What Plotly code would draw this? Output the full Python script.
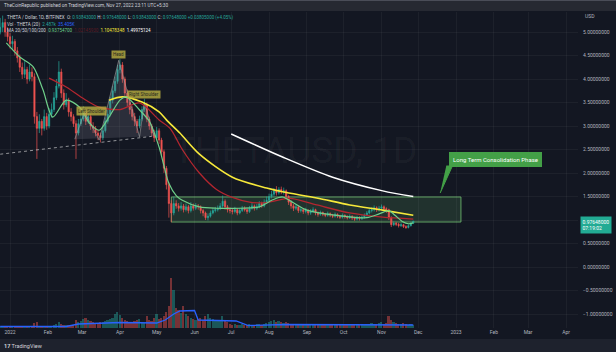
import plotly.graph_objects as go
import pandas as pd

# ---------------- data (2-day candles) ----------------
candle_start = "2021-12-24"
first_open = 5.00
closes = [5.10,5.20,5.00,4.90,4.75,4.80,4.60,4.45,4.25,4.10,
          4.20,4.00,4.15,4.05,3.20,2.95,3.10,2.95,3.20,3.00,
          3.25,3.35,3.60,3.85,4.15,3.70,3.45,3.55,3.30,3.20,
          3.05,2.85,3.05,3.15,3.30,3.10,3.20,3.00,2.95,2.85,
          2.80,2.75,2.90,3.10,3.25,3.55,3.75,3.95,4.20,4.30,
          4.00,3.70,3.50,3.35,3.20,3.10,3.00,3.15,3.35,3.45,
          3.15,3.00,2.85,2.75,2.90,2.70,2.45,2.10,1.75,1.35,
          1.15,1.35,1.30,1.25,1.30,1.22,1.28,1.20,1.30,1.25,
          1.30,1.28,1.20,1.15,1.05,1.08,1.15,1.20,1.22,1.25,
          1.30,1.40,1.28,1.22,1.20,1.18,1.22,1.15,1.20,1.25,
          1.22,1.18,1.25,1.30,1.25,1.28,1.35,1.30,1.38,1.42,
          1.50,1.55,1.62,1.58,1.65,1.60,1.62,1.50,1.38,1.30,
          1.25,1.28,1.20,1.22,1.18,1.20,1.15,1.18,1.22,1.15,
          1.12,1.16,1.12,1.10,1.14,1.10,1.08,1.12,1.08,1.06,
          1.10,1.07,1.05,1.08,1.04,1.02,1.05,1.03,1.06,1.10,
          1.15,1.20,1.22,1.26,1.22,1.25,1.28,1.24,1.22,1.05,
          0.90,0.93,0.91,0.88,0.90,0.86,0.84,0.88,0.93,0.976]
highs = [5.30,5.35,5.28,5.10,4.98,4.92,4.85,4.68,4.52,4.35,
         4.38,4.26,4.30,4.25,4.12,3.30,3.25,3.15,3.35,3.28,
         3.38,3.48,3.72,4.00,4.38,4.22,3.78,3.70,3.60,3.38,
         3.25,3.12,3.15,3.28,3.42,3.35,3.32,3.25,3.08,3.00,
         2.92,2.86,2.98,3.18,3.34,3.62,3.85,4.05,4.30,4.42,
         4.36,4.05,3.78,3.56,3.42,3.28,3.15,3.22,3.42,3.58,
         3.50,3.20,3.05,2.92,2.98,2.95,2.75,2.50,2.15,1.80,
         1.42,1.50,1.42,1.36,1.38,1.34,1.35,1.32,1.38,1.35,
         1.36,1.34,1.31,1.24,1.18,1.14,1.20,1.26,1.28,1.31,
         1.36,1.52,1.44,1.32,1.27,1.24,1.28,1.25,1.26,1.30,
         1.29,1.26,1.30,1.36,1.33,1.34,1.40,1.39,1.44,1.50,
         1.56,1.62,1.68,1.72,1.70,1.71,1.69,1.65,1.53,1.42,
         1.34,1.33,1.31,1.27,1.25,1.26,1.23,1.23,1.27,1.24,
         1.18,1.20,1.18,1.15,1.18,1.16,1.13,1.16,1.14,1.11,
         1.14,1.12,1.10,1.12,1.10,1.07,1.09,1.08,1.10,1.14,
         1.19,1.24,1.27,1.31,1.29,1.30,1.33,1.31,1.27,1.24,
         1.08,0.97,0.96,0.94,0.94,0.92,0.89,0.91,0.96,0.98]
lows = [4.95,5.00,4.90,4.80,4.65,4.62,4.50,4.35,4.15,4.00,
        4.02,3.90,3.95,3.95,3.05,2.30,2.85,2.80,2.90,2.92,
        2.95,3.18,3.30,3.55,3.80,3.60,3.35,3.40,3.20,3.10,
        2.98,2.30,2.80,3.00,3.10,3.02,3.05,2.92,2.85,2.78,
        2.70,2.65,2.70,2.86,3.05,3.20,3.48,3.70,3.90,4.12,
        3.92,3.62,3.42,3.25,3.12,3.00,2.85,2.95,3.10,3.30,
        3.08,2.92,2.78,2.66,2.70,2.62,2.38,2.00,1.65,1.05,
        0.95,1.10,1.24,1.18,1.20,1.16,1.18,1.14,1.16,1.20,
        1.21,1.22,1.14,1.08,1.00,0.99,1.05,1.12,1.16,1.18,
        1.21,1.26,1.22,1.16,1.14,1.12,1.14,1.10,1.12,1.17,
        1.18,1.13,1.15,1.22,1.20,1.21,1.25,1.26,1.27,1.34,
        1.38,1.46,1.50,1.52,1.54,1.55,1.54,1.45,1.32,1.24,
        1.19,1.21,1.15,1.16,1.13,1.14,1.10,1.11,1.15,1.10,
        1.07,1.09,1.08,1.06,1.07,1.06,1.04,1.05,1.04,1.02,
        1.03,1.03,1.01,1.02,1.00,0.98,0.99,0.99,1.00,1.03,
        1.07,1.12,1.16,1.18,1.17,1.18,1.21,1.19,1.15,1.00,
        0.85,0.87,0.87,0.84,0.85,0.83,0.81,0.82,0.86,0.92]
volumes = [2,2,2,1.5,2,1.5,2,2,2.5,2,
           2,2,2,2,5,6,2,2,2,2,
           2,2,3,4,6,4,3,3,3,2,
           3,8,6,7,9,10,8,7,6,5,
           5,6,6,7,8,9,10,14,16,13,
           10,8,7,6,6,7,8,9,6,5,
           12,8,7,10,14,9,10,12,16,22,
           50,38,20,18,15,22,14,12,10,9,
           8,9,10,8,12,14,10,9,8,7,
           8,12,8,6,4,3,4,3,3,4,
           3,3,4,3,3,4,4,3,4,5,
           6,7,8,6,7,6,5,6,5,4,
           4,3,4,3,3,4,3,3,4,3,
           3,3,4,3,3,3,4,3,3,3,
           3,4,3,3,3,4,3,3,4,3,
           4,4,5,4,4,5,6,4,5,12,
           8,6,5,4,4,5,4,3,4,3]

ma20_dates = ["2021-12-29","2022-01-09","2022-01-20","2022-01-28","2022-02-05","2022-02-16","2022-02-27",
              "2022-03-07","2022-03-15","2022-03-23","2022-04-01","2022-04-06","2022-04-17","2022-04-25",
              "2022-05-03","2022-05-07","2022-05-11","2022-05-17","2022-05-22","2022-06-05","2022-06-19",
              "2022-07-08","2022-07-24","2022-08-04","2022-08-12","2022-08-20","2022-09-01","2022-09-22",
              "2022-10-20","2022-10-30","2022-11-07","2022-11-12","2022-11-18","2022-11-23","2022-11-27"]
ma20_vals = [4.77,4.47,4.26,3.77,3.19,3.55,3.40,3.06,2.91,3.19,3.55,3.62,3.34,3.10,
             2.55,2.15,1.78,1.52,1.42,1.28,1.25,1.25,1.28,1.43,1.49,1.38,1.21,1.11,
             1.05,1.13,1.20,1.10,0.97,0.92,0.94]
ma50_dates = ["2022-02-02","2022-02-16","2022-03-01","2022-03-15","2022-04-01","2022-04-17","2022-05-03",
              "2022-05-12","2022-05-22","2022-06-05","2022-06-19","2022-07-02","2022-07-16","2022-07-30",
              "2022-08-18","2022-09-09","2022-10-06","2022-11-02","2022-11-27"]
ma50_vals = [4.02,3.83,3.60,3.40,3.35,3.49,3.13,2.95,2.50,2.00,1.65,1.48,1.38,1.37,1.46,1.32,1.15,1.06,1.02]
ma100_dates = ["2022-03-23","2022-04-03","2022-04-19","2022-05-03","2022-05-09","2022-05-20","2022-06-05",
               "2022-07-02","2022-07-30","2022-08-12","2022-09-09","2022-10-06","2022-11-02","2022-11-27"]
ma100_vals = [3.55,3.62,3.51,3.30,3.13,2.85,2.40,1.91,1.68,1.60,1.47,1.32,1.21,1.10]
ma200_dates = ["2022-07-01","2022-08-12","2022-09-22","2022-11-02","2022-11-27"]
ma200_vals = [2.83,2.34,1.91,1.62,1.50]
volma_dates = ["2021-12-24","2022-01-02","2022-02-16","2022-02-26","2022-04-01","2022-05-01","2022-05-08",
               "2022-05-15","2022-05-20","2022-06-01","2022-06-04","2022-07-05","2022-07-15","2022-08-15","2022-11-27"]
volma_vals = [1.5,1.5,1.5,4,5.5,5,8,14,17,17.5,8,7,2.5,3.5,3]

# drawings
hs_dates = ["2022-02-23","2022-03-03","2022-03-15","2022-03-31","2022-04-17","2022-04-21","2022-04-29"]
hs_vals = [2.72,3.30,2.70,4.40,2.77,3.51,2.78]
neck_dates = ["2021-12-24","2022-04-27"]
neck_vals = [2.40,2.78]
zone_dates = ["2022-05-13","2023-01-05"]
zone_vals = [0.957,1.49]
pointer_dates = ["2022-12-24","2022-12-29","2022-12-19"]
pointer_vals = [2.149,2.149,1.574]

month_ticks = ["2022-01-01","2022-02-01","2022-03-01","2022-04-01","2022-05-01","2022-06-01","2022-07-01",
               "2022-08-01","2022-09-01","2022-10-01","2022-11-01","2022-12-01","2023-01-01","2023-02-01",
               "2023-03-01","2023-04-01"]
month_text = ["2022","Feb","Mar","Apr","May","Jun","Jul","Aug","Sep","Oct","Nov","Dec","2023","Feb","Mar","Apr"]
price_ticks = [-1.0,-0.5,0.0,0.5,1.0,1.5,2.0,2.5,3.0,3.5,4.0,4.5,5.0]
price_text = ["−1.00000000","−0.50000000","0.00000000","0.50000000","","1.50000000","2.00000000",
              "2.50000000","3.00000000","3.50000000","4.00000000","4.50000000","5.00000000"]

# ---------------- figure ----------------
dates = pd.date_range(candle_start, periods=len(closes), freq="2D")
opens = [first_open] + closes[:-1]
UP, DN = "#26a69a", "#ef5350"
vol_colors = [UP if c >= o else DN for o, c in zip(opens, closes)]

BG = "#131722"
FONT = "Roboto"
fig = go.Figure()

# H&S pattern fill
fig.add_trace(go.Scatter(x=hs_dates, y=hs_vals, mode="lines", fill="toself",
                         fillcolor="rgba(130,134,145,0.22)", line=dict(color="rgba(160,160,160,0.6)", width=1),
                         hoverinfo="skip", showlegend=False))
fig.add_trace(go.Scatter(x=neck_dates, y=neck_vals, mode="lines",
                         line=dict(color="rgba(230,230,230,0.6)", width=1, dash="dot"),
                         hoverinfo="skip", showlegend=False))

fig.add_trace(go.Candlestick(x=dates, open=opens, high=highs, low=lows, close=closes,
                             increasing=dict(line=dict(color=UP, width=0.7), fillcolor=UP),
                             decreasing=dict(line=dict(color=DN, width=0.7), fillcolor=DN),
                             whiskerwidth=0, hoverinfo="skip", showlegend=False))

for dts, vals, col, w in [(ma200_dates, ma200_vals, "#ffffff", 1.5),
                          (ma100_dates, ma100_vals, "#f7e93a", 1.6),
                          (ma50_dates, ma50_vals, "#b3262f", 1.3),
                          (ma20_dates, ma20_vals, "#6fcf8a", 1.2)]:
    fig.add_trace(go.Scatter(x=dts, y=vals, mode="lines", line=dict(color=col, width=w, shape="spline", smoothing=0.8),
                             hoverinfo="skip", showlegend=False))

# callout pointer
fig.add_trace(go.Scatter(x=pointer_dates, y=pointer_vals, mode="lines", fill="toself", fillcolor="#43a047",
                         line=dict(color="#43a047", width=1), hoverinfo="skip", showlegend=False))

# volume
fig.add_trace(go.Bar(x=dates, y=volumes, marker=dict(color=vol_colors, line=dict(width=0)), opacity=0.45,
                     width=1.4 * 86400000, yaxis="y2", hoverinfo="skip", showlegend=False))
fig.add_trace(go.Scatter(x=volma_dates, y=volma_vals, mode="lines", yaxis="y2",
                         line=dict(color="#2962ff", width=1.3), hoverinfo="skip", showlegend=False))

shapes = [
    dict(type="rect", xref="x", yref="y", x0=zone_dates[0], x1=zone_dates[1], y0=zone_vals[0], y1=zone_vals[1],
         fillcolor="rgba(90,160,95,0.20)", line=dict(color="rgba(110,185,110,0.85)", width=1), layer="below"),
    dict(type="rect", xref="paper", yref="paper", x0=0, x1=1.066, y0=1.003, y1=1.04,
         fillcolor="#262932", line=dict(width=0), layer="below"),
    dict(type="rect", xref="paper", yref="paper", x0=0, x1=1.066, y0=1.035, y1=1.04,
         fillcolor="#4a4d58", line=dict(width=0), layer="below"),
    dict(type="rect", xref="paper", yref="paper", x0=0, x1=1.066, y0=-0.08, y1=-0.035,
         fillcolor="#1e222d", line=dict(width=0), layer="below"),
]

lbl = "#d1d4dc"
def span(t, c):
    return f'<span style="color:{c}">{t}</span>'

line1 = ("THETA / Dollar, 1D, BITFINEX  O: " + span("0.93843000", UP) + " H: " + span("0.97648000", UP)
         + " L: " + span("0.93843000", UP) + " C: " + span("0.97648000", UP) + " " + span("+0.03805000 (+4.05%)", UP))
line2 = "Vol · THETA (20)  " + span("2.487k", UP) + "  " + span("35.405K", "#2962ff")
line3 = ("MA 20/50/100/200  " + span("0.93754700", "#6fcf8a") + "  " + span("1.02145930", "#5a1a22")
         + "  " + span("1.10478348", "#f7e93a") + "  " + span("1.49975124", "#ffffff"))

annotations = [
    dict(text="THETAUSD, 1D", xref="paper", yref="paper", x=0.51, y=0.563, showarrow=False,
         font=dict(family=FONT, size=37, color="rgba(255,255,255,0.045)")),
    dict(text="TheCoinRepublic published on TradingView.com, Nov 27, 2022 23:11 UTC+5:30", xref="paper", yref="paper",
         x=0.004, y=1.02, xanchor="left", yanchor="middle", showarrow=False, font=dict(family=FONT, size=4.7, color=lbl)),
    dict(text=line1, xref="paper", yref="paper", x=0.009, y=0.984, xanchor="left", yanchor="middle", showarrow=False,
         font=dict(family=FONT, size=4.5, color=lbl)),
    dict(text=line2, xref="paper", yref="paper", x=0.009, y=0.962, xanchor="left", yanchor="middle", showarrow=False,
         font=dict(family=FONT, size=4.5, color=lbl)),
    dict(text=line3, xref="paper", yref="paper", x=0.009, y=0.940, xanchor="left", yanchor="middle", showarrow=False,
         font=dict(family=FONT, size=4.5, color=lbl)),
    dict(text="USD", xref="paper", yref="paper", x=1.009, y=0.987, xanchor="left", yanchor="middle", showarrow=False,
         font=dict(family=FONT, size=5, color="#b2b5be")),
    dict(text="0.97648000<br>07:19:02", xref="paper", yref="y", x=1.004, y=1.085, xanchor="left", yanchor="top",
         align="left", showarrow=False, bgcolor="#22ab94", borderpad=1.5,
         font=dict(family=FONT, size=5, color="#ffffff")),
    dict(text="Long Term Consolidation Phase", xref="x", yref="y", x="2023-02-02", y=2.287, showarrow=False,
         bgcolor="#43a047", bordercolor="#43a047", borderpad=3, font=dict(family=FONT, size=6, color="#ffffff")),
    dict(text="Left Shoulder", xref="x", yref="y", x="2022-03-09", y=3.32, showarrow=False,
         bgcolor="rgba(185,175,65,0.8)", borderpad=1, font=dict(family=FONT, size=4.5, color="#2a2a20")),
    dict(text="Head", xref="x", yref="y", x="2022-03-31", y=4.53, showarrow=False,
         bgcolor="rgba(185,175,65,0.8)", borderpad=1, font=dict(family=FONT, size=4.5, color="#2a2a20")),
    dict(text="Right Shoulder", xref="x", yref="y", x="2022-04-21", y=3.68, showarrow=False,
         bgcolor="rgba(185,175,65,0.8)", borderpad=1, font=dict(family=FONT, size=4.5, color="#2a2a20")),
    dict(text="<b>17</b> TradingView", xref="paper", yref="paper", x=0.004, y=-0.057, xanchor="left", yanchor="middle",
         showarrow=False, font=dict(family=FONT, size=5.5, color=lbl)),
]

fig.update_layout(
    width=616, height=352, margin=dict(l=0, r=38, t=12, b=24),
    paper_bgcolor=BG, plot_bgcolor=BG, showlegend=False, hovermode=False,
    shapes=shapes, annotations=annotations, bargap=0,
    xaxis=dict(type="date", range=["2021-12-23 19:40", "2023-04-10 19:00"], tickvals=month_ticks, ticktext=month_text,
               tickfont=dict(family=FONT, size=5, color="#b2b5be"), showgrid=True,
               gridcolor="rgba(255,255,255,0.045)", zeroline=False, showline=False, ticks="",
               rangeslider=dict(visible=False), fixedrange=True),
    yaxis=dict(side="right", range=[-1.298, 5.426], tickvals=price_ticks, ticktext=price_text,
               tickfont=dict(family=FONT, size=5, color="#b2b5be"), showgrid=True,
               gridcolor="rgba(255,255,255,0.045)", zeroline=False, showline=False, ticks="",
               ticklabelstandoff=4, fixedrange=True),
    yaxis2=dict(overlaying="y", range=[0, 316], visible=False, fixedrange=True),
)

fig.write_html("out.html")
